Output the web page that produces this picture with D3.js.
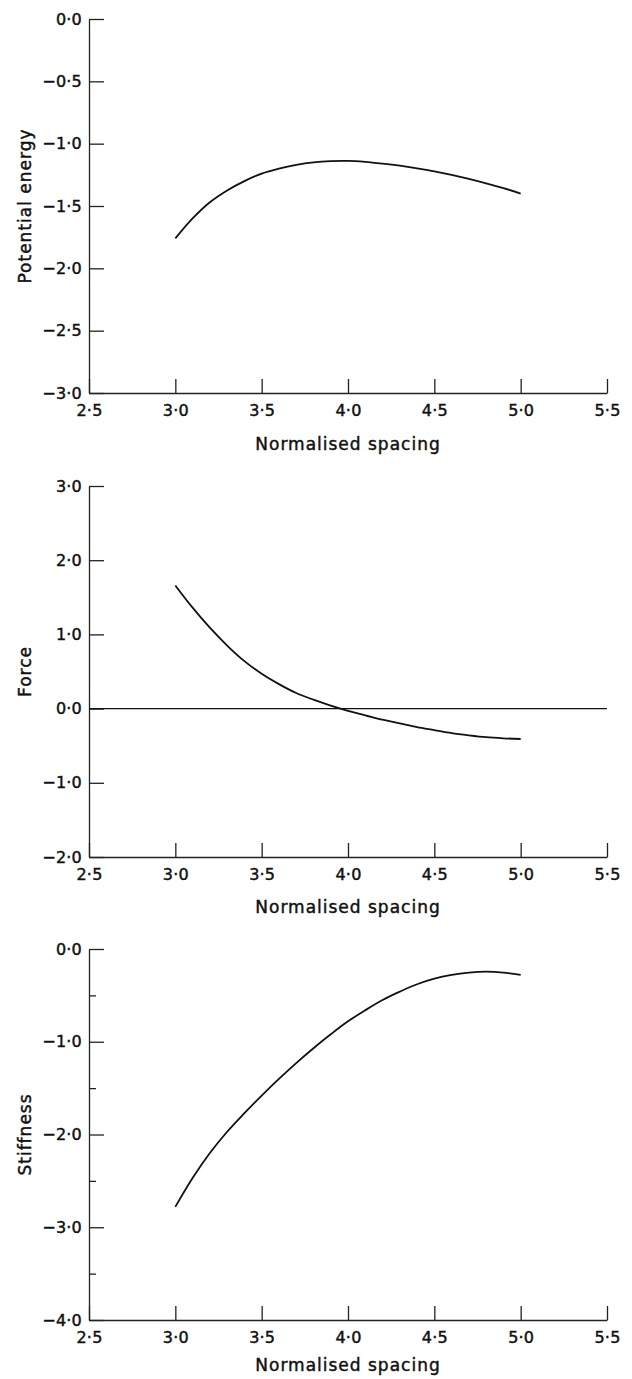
<!DOCTYPE html>
<html>
<head>
<meta charset="utf-8">
<script src="https://cdn.jsdelivr.net/npm/d3@7"></script>
<style>
  body { margin: 0; background: #fff; }
  svg { display: block; }
  .tick text, .lab { font-family: "DejaVu Sans", sans-serif; fill: #111; stroke: #111; stroke-width: 0.45px; }
</style>
</head>
<body>
<div id="chart"></div>
<script>
// spacing values shared by all three curves
let spacing = [3.0, 3.1, 3.2, 3.3, 3.4, 3.5, 3.6, 3.7, 3.8, 3.9, 4.0,
               4.1, 4.2, 4.3, 4.4, 4.5, 4.6, 4.7, 4.8, 4.9, 5.0];

let energy = [-1.76, -1.60, -1.47, -1.375, -1.30, -1.24, -1.20, -1.17, -1.15, -1.14, -1.138,
              -1.146, -1.16, -1.177, -1.198, -1.222, -1.25, -1.282, -1.318, -1.357, -1.40];

let force = [1.66, 1.36, 1.09, 0.85, 0.64, 0.47, 0.33, 0.21, 0.12, 0.04, -0.03,
             -0.09, -0.15, -0.20, -0.25, -0.29, -0.33, -0.36, -0.385, -0.40, -0.41];

let stiffness = [-2.78, -2.47, -2.20, -1.97, -1.77, -1.58, -1.40, -1.23, -1.07, -0.92, -0.78,
                 -0.66, -0.55, -0.46, -0.38, -0.32, -0.28, -0.255, -0.245, -0.255, -0.28];

let xTicks = [2.5, 3.0, 3.5, 4.0, 4.5, 5.0, 5.5];
let energyTicks = [0, -0.5, -1.0, -1.5, -2.0, -2.5, -3.0];
let forceTicks = [3, 2, 1, 0, -1, -2];
let stiffTicks = [0, -1, -2, -3, -4];
let stiffMinor = [-0.5, -1.5, -2.5, -3.5];

let width = 632;
let height = 1379;
let left = 89, right = 607;

let fmt = function(d) { return d3.format(".1f")(d).replace(".", "\u00B7"); };

let svg = d3.select("#chart").append("svg")
    .attr("width", width)
    .attr("height", height);

let xScale = d3.scaleLinear().domain([2.5, 5.5]).range([left, right]);

// one panel: axes, optional zero line, curve
function drawPanel(cfg) {
  let yScale = d3.scaleLinear().domain(cfg.domain).range(cfg.range);
  let g = svg.append("g");

  let yAxis = d3.axisLeft(yScale)
      .tickValues(cfg.ticks)
      .tickFormat(fmt)
      .tickSizeInner(-15)
      .tickSizeOuter(0)
      .tickPadding(7);

  g.append("g")
      .attr("transform", "translate(" + left + ",0)")
      .call(yAxis);

  if (cfg.minor) {
    g.append("g")
      .attr("transform", "translate(" + left + ",0)")
      .call(d3.axisLeft(yScale).tickValues(cfg.minor).tickFormat("").tickSizeInner(-7).tickSizeOuter(0))
      .select(".domain").remove();
  }

  let xAxis = d3.axisBottom(xScale)
      .tickValues(xTicks)
      .tickFormat(fmt)
      .tickSizeInner(-14)
      .tickSizeOuter(0)
      .tickPadding(12);

  g.append("g")
      .attr("transform", "translate(0," + cfg.range[0] + ")")
      .call(xAxis);

  g.selectAll(".domain, .tick line")
      .attr("stroke", "#222")
      .attr("stroke-width", 1.3);
  g.selectAll(".tick text")
      .style("font-size", "16px")
      .style("letter-spacing", "0.2px");

  if (cfg.zero) {
    g.append("line")
      .attr("x1", left).attr("x2", right)
      .attr("y1", yScale(0)).attr("y2", yScale(0))
      .attr("stroke", "#111")
      .attr("stroke-width", 1.4);
  }

  let line = d3.line()
      .x(function(d, i) { return xScale(spacing[i]); })
      .y(function(d) { return yScale(d); })
      .curve(d3.curveCatmullRom);

  g.append("path")
      .datum(cfg.values)
      .attr("d", line)
      .attr("fill", "none")
      .attr("stroke", "#111")
      .attr("stroke-width", 1.8);

  g.append("text")
      .attr("class", "lab")
      .attr("x", (left + right) / 2)
      .attr("y", cfg.range[0] + cfg.labelGap)
      .attr("text-anchor", "middle")
      .style("font-size", "17px")
      .style("letter-spacing", "1px")
      .text("Normalised spacing");

  let mid = (cfg.range[0] + cfg.range[1]) / 2;
  g.append("text")
      .attr("class", "lab")
      .attr("transform", "translate(31," + mid + ") rotate(-90)")
      .attr("text-anchor", "middle")
      .style("font-size", "17px")
      .style("letter-spacing", "1px")
      .text(cfg.label);
}

drawPanel({ domain: [-3, 0], range: [393, 19], ticks: energyTicks, values: energy, label: "Potential energy", labelGap: 57 });
drawPanel({ domain: [-2, 3], range: [857, 486], ticks: forceTicks, values: force, label: "Force", zero: true, labelGap: 56 });
drawPanel({ domain: [-4, 0], range: [1320, 949], ticks: stiffTicks, minor: stiffMinor, values: stiffness, label: "Stiffness", labelGap: 51 });
</script>
</body>
</html>
